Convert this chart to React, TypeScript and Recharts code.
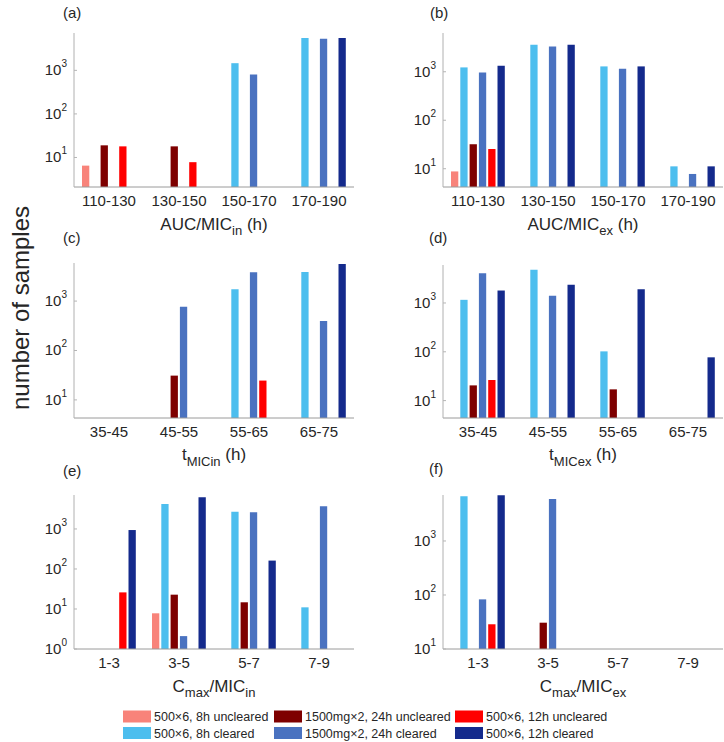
import React from 'react';
import { BarChart, Bar, XAxis, YAxis } from 'recharts';

const SERIES_NAMES = [
  '500×6, 8h uncleared',
  '500×6, 8h cleared',
  '1500mg×2, 24h uncleared',
  '1500mg×2, 24h cleared',
  '500×6, 12h uncleared',
  '500×6, 12h cleared',
];
const SERIES_COLORS = ['#F8837A', '#4DBEEE', '#7E0000', '#4A72C0', '#FF0000', '#142A8C'];

const AUC_CATS = ['110-130', '130-150', '150-170', '170-190'];
const T_CATS = ['35-45', '45-55', '55-65', '65-75'];
const C_CATS = ['1-3', '3-5', '5-7', '7-9'];

// one row per series (same order as SERIES_NAMES), one value per category, null = no bar
const aucInValues = [
  [6.5, null, null, null],
  [null, null, 1460, 5500],
  [19, 18, null, null],
  [null, null, 800, 5300],
  [18, 7.8, null, null],
  [null, null, null, 5500],
];
const aucExValues = [
  [8.8, null, null, null],
  [1230, 3600, 1290, 11.2],
  [32, null, null, null],
  [970, 3330, 1150, 7.8],
  [25.5, null, null, null],
  [1330, 3600, 1290, 11.2],
];
const tInValues = [
  [null, null, null, null],
  [null, null, 1740, 3900],
  [null, 31, null, null],
  [null, 770, 3850, 395],
  [null, null, 24.6, null],
  [null, null, null, 5600],
];
const tExValues = [
  [null, null, null, null],
  [1160, 4780, 102, null],
  [20.5, null, 17, null],
  [4070, 1400, null, null],
  [26.4, null, null, null],
  [1800, 2350, 1920, 77],
];
const cInValues = [
  [null, 7.8, null, null],
  [null, 4200, 2700, 11],
  [null, 22.8, 14.7, null],
  [null, 2.1, 2600, 3700],
  [26, null, null, null],
  [940, 6200, 162, null],
];
const cExValues = [
  [null, null, null, null],
  [6700, null, null, null],
  [null, 30.7, null, null],
  [83, 6000, null, null],
  [28.7, null, null, null],
  [7000, null, null, null],
];

const TEXT = '#262626';
const AXIS = '#9a9a9a';
const FONT = '"Liberation Sans", Arial, Helvetica, sans-serif';

// tick like 10^3
const PowTick = (props: any) => {
  const { x, y, payload } = props;
  const exp = Math.round(Math.log10(payload.value));
  return (
    <text x={x} y={y} textAnchor="end" fontSize={15} fill={TEXT} fontFamily={FONT}>
      <tspan dy={5}>10</tspan>
      <tspan dy={-8} fontSize={10}>{exp}</tspan>
    </text>
  );
};

function Panel({ cats, values, domain, ticks, left, top, plotLeft, plotTop, plotBottom }: any) {
  const W = 362;
  const H = 230;
  const yw = 60;
  const data = cats.map((c: string, i: number) => {
    const row: any = { cat: c };
    values.forEach((s: any[], k: number) => {
      row['s' + k] = s[i];
    });
    return row;
  });
  return (
    <div style={{ position: 'absolute', left, top }}>
      <BarChart
        width={W}
        height={H}
        data={data}
        margin={{ top: plotTop, left: plotLeft - yw, right: W - plotLeft - 280, bottom: H - plotBottom - 30 }}
        barSize={7.3}
        barGap={2}
      >
        <XAxis
          dataKey="cat"
          height={30}
          interval={0}
          tickLine={false}
          tickSize={0}
          tickMargin={8}
          axisLine={{ stroke: AXIS }}
          tick={{ fontSize: 15, fill: TEXT, fontFamily: FONT }}
        />
        <YAxis
          type="number"
          scale="log"
          domain={domain}
          allowDataOverflow
          ticks={ticks}
          interval={0}
          width={yw}
          tickSize={-3}
          tickMargin={10}
          tickLine={{ stroke: '#b5b5b5' }}
          axisLine={{ stroke: '#b0b0b0' }}
          tick={<PowTick />}
        />
        {SERIES_NAMES.map((n, k) => (
          <Bar key={k} dataKey={'s' + k} name={n} fill={SERIES_COLORS[k]} isAnimationActive={false} />
        ))}
      </BarChart>
    </div>
  );
}

function Labels() {
  const leftC = 74 + 140;
  const rightC = 443 + 140;
  return (
    <svg
      width={724}
      height={742}
      style={{ position: 'absolute', left: 0, top: 0, pointerEvents: 'none' }}
      fontFamily={FONT}
      fill={TEXT}
    >
      <text x={63} y={18} fontSize={15}>(a)</text>
      <text x={430} y={18} fontSize={15}>(b)</text>
      <text x={63} y={243} fontSize={15}>(c)</text>
      <text x={429} y={243} fontSize={15}>(d)</text>
      <text x={63} y={476} fontSize={15}>(e)</text>
      <text x={429} y={474} fontSize={15}>(f)</text>

      <text x={leftC} y={230} fontSize={17} textAnchor="middle">
        AUC/MIC<tspan fontSize={13} dy={5}>in</tspan>
        <tspan dy={-5}>{' (h)'}</tspan>
      </text>
      <text x={rightC} y={230} fontSize={17} textAnchor="middle">
        AUC/MIC<tspan fontSize={13} dy={5}>ex</tspan>
        <tspan dy={-5}>{' (h)'}</tspan>
      </text>
      <text x={leftC} y={460} fontSize={17} textAnchor="middle">
        t<tspan fontSize={13} dy={6}>MICin</tspan>
        <tspan dy={-6}>{' (h)'}</tspan>
      </text>
      <text x={rightC} y={460} fontSize={17} textAnchor="middle">
        t<tspan fontSize={13} dy={6}>MICex</tspan>
        <tspan dy={-6}>{' (h)'}</tspan>
      </text>
      <text x={leftC} y={692} fontSize={17} textAnchor="middle">
        C<tspan fontSize={13} dy={5}>max</tspan>
        <tspan dy={-5}>/MIC</tspan>
        <tspan fontSize={13} dy={5}>in</tspan>
      </text>
      <text x={rightC} y={692} fontSize={17} textAnchor="middle">
        C<tspan fontSize={13} dy={5}>max</tspan>
        <tspan dy={-5}>/MIC</tspan>
        <tspan fontSize={13} dy={5}>ex</tspan>
      </text>

      <text x={29} y={308} fontSize={24} textAnchor="middle" transform="rotate(-90, 29, 308)">
        number of samples
      </text>

      {SERIES_NAMES.map((n, k) => {
        const colX = [123, 274, 455][Math.floor(k / 2)];
        const rowY = [716.5, 733][k % 2];
        return (
          <g key={k}>
            <rect x={colX} y={rowY - 6} width={28} height={12} fill={SERIES_COLORS[k]} />
            <text x={colX + 31} y={rowY + 4.5} fontSize={12.5}>{n}</text>
          </g>
        );
      })}
    </svg>
  );
}

export default function App() {
  return (
    <div
      style={{
        position: 'absolute',
        left: 0,
        top: 0,
        width: 724,
        height: 742,
        background: '#fff',
        fontFamily: FONT,
        overflow: 'hidden',
      }}
    >
      <Panel cats={AUC_CATS} values={aucInValues} domain={[2.1, 7200]} ticks={[10, 100, 1000]}
        left={0} top={0} plotLeft={74} plotTop={33} plotBottom={187} />
      <Panel cats={AUC_CATS} values={aucExValues} domain={[4.2, 6300]} ticks={[10, 100, 1000]}
        left={362} top={0} plotLeft={81} plotTop={33} plotBottom={187} />
      <Panel cats={T_CATS} values={tInValues} domain={[4.3, 5900]} ticks={[10, 100, 1000]}
        left={0} top={230} plotLeft={74} plotTop={33} plotBottom={188} />
      <Panel cats={T_CATS} values={tExValues} domain={[4.4, 6000]} ticks={[10, 100, 1000]}
        left={362} top={230} plotLeft={81} plotTop={35} plotBottom={188} />
      <Panel cats={C_CATS} values={cInValues} domain={[1, 7060]} ticks={[1, 10, 100, 1000]}
        left={0} top={460} plotLeft={74} plotTop={35} plotBottom={189} />
      <Panel cats={C_CATS} values={cExValues} domain={[10, 7100]} ticks={[10, 100, 1000]}
        left={362} top={460} plotLeft={81} plotTop={35} plotBottom={189} />
      <Labels />
    </div>
  );
}
